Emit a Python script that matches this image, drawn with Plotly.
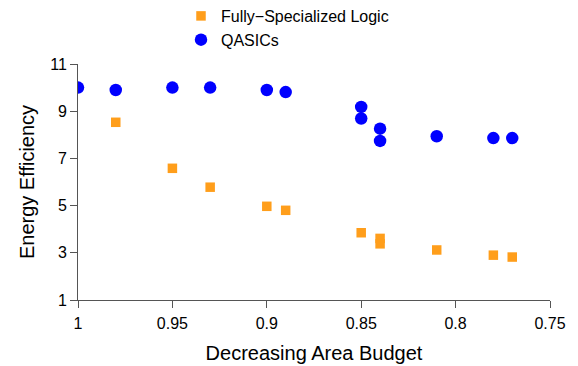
import plotly.graph_objects as go

# Data
fsl_x = [0.98, 0.95, 0.93, 0.90, 0.89, 0.85, 0.84, 0.84, 0.81, 0.78, 0.77]
fsl_y = [8.53, 6.58, 5.78, 4.97, 4.80, 3.85, 3.61, 3.38, 3.12, 2.90, 2.82]

qasic_x = [1.00, 0.98, 0.95, 0.93, 0.90, 0.89, 0.85, 0.85, 0.84, 0.84, 0.81, 0.78, 0.77]
qasic_y = [10.0, 9.90, 10.0, 10.0, 9.90, 9.81, 9.18, 8.69, 8.26, 7.74, 7.94, 7.86, 7.86]

x_ticks = [1, 0.95, 0.9, 0.85, 0.8, 0.75]
x_ticklabels = ["1", "0.95", "0.9", "0.85", "0.8", "0.75"]
y_ticks = [1, 3, 5, 7, 9, 11]

FONT = "Liberation Sans, Arial, Helvetica, sans-serif"

fig = go.Figure()
fig.add_trace(go.Scatter(
    x=fsl_x, y=fsl_y, mode="markers", name="Fully\u2212Specialized Logic",
    legendgroup="a",
    marker=dict(symbol="square", size=9.5, color="#FF9E1B", line=dict(width=0)),
))
fig.add_trace(go.Scatter(
    x=qasic_x, y=qasic_y, mode="markers", name="QASICs",
    legendgroup="b",
    marker=dict(symbol="circle", size=12.5, color="#0000FF", line=dict(width=0)),
))

axis_common = dict(
    showgrid=False, zeroline=False, showline=True, linecolor="#555555", linewidth=1,
    ticks="outside", ticklen=7, tickwidth=1, tickcolor="#555555",
    tickfont=dict(size=16, color="#000000", family=FONT),
    automargin=False,
)

fig.update_layout(
    width=578, height=366,
    margin=dict(l=78, r=28, t=64, b=66, autoexpand=False),
    paper_bgcolor="white", plot_bgcolor="white",
    font=dict(family=FONT, color="#000000"),
    xaxis=dict(
        range=[1, 0.75], tickvals=x_ticks, ticktext=x_ticklabels, tickangle=0,
        ticklabelstandoff=2,
        title=dict(text="Decreasing Area Budget", font=dict(size=20), standoff=14),
        **axis_common,
    ),
    yaxis=dict(
        range=[1, 11], tickvals=y_ticks,
        title=dict(text="Energy Efficiency", font=dict(size=20), standoff=10),
        **axis_common,
    ),
    showlegend=True,
    legend=dict(
        x=(181 - 78) / 472, xanchor="left", y=(300 + 1) / 236, yanchor="top",
        font=dict(size=16, family=FONT), tracegroupgap=0,
        bgcolor="rgba(0,0,0,0)", itemsizing="trace",
    ),
)

fig.write_html("out.html")
